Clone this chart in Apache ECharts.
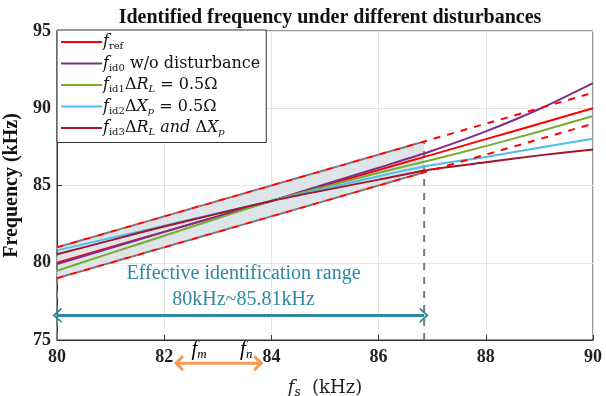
<!DOCTYPE html>
<html>
<head>
<meta charset="utf-8">
<script src="https://cdn.jsdelivr.net/npm/echarts@6/dist/echarts.min.js"></script>
<style>
  html, body { margin: 0; padding: 0; background: #fff; }
  #main { width: 606px; height: 396px; }
</style>
</head>
<body>
<div id="main"></div>
<script>
// sampled points along f_s (kHz)
var fsAxis = [80, 81, 82, 83, 84, 85, 86, 87, 88, 89, 90];
var fRef = [80, 81, 82, 83, 84, 85, 86, 87, 88, 89, 90];
var fId0 = [79.92, 80.95, 82.0, 83.0, 84.0, 85.08, 86.15, 87.25, 88.5, 89.95, 91.63];
var fId1 = [79.48, 80.62, 81.75, 82.88, 84.0, 84.92, 85.82, 86.67, 87.55, 88.5, 89.5];
var fId2 = [80.8, 81.6, 82.4, 83.2, 84.0, 84.8, 85.6, 86.32, 86.85, 87.45, 88.02];
var fId3 = [80.55, 81.45, 82.35, 83.18, 84.0, 84.7, 85.38, 86.05, 86.5, 86.95, 87.33];

// +-1 kHz tolerance lines
var tolX = [80, 90];
var tolHigh = [81, 91];
var tolLow = [79, 89];

// effective range band
var bandX = [80, 86.85];
var bandHigh = [81, 87.85];
var bandLow = [79, 85.85];

// annotations
var rangeArrowX = [80, 86.85];
var rangeArrowY = 76.6;
var fmnX = [82.22, 83.81];
var fmnY = 73.5;

var serif = '"Liberation Serif", "DejaVu Serif", serif';
var lserif = '"DejaVu Serif", serif';
var teal = '#2f87a2';
var orange = '#f59d56';
var gray = '#7a7a7a';

function pairs(xs, ys) {
  var out = [];
  for (var i = 0; i < xs.length; i++) out.push([xs[i], ys[i]]);
  return out;
}

function richSet(font, big, small, drop, color) {
  return {
    i: { fontFamily: font, fontStyle: 'italic', fontSize: big, color: color },
    n: { fontFamily: font, fontSize: big, color: color },
    s: { fontFamily: font, fontSize: small, color: color, padding: [drop, 0, 0, 0] },
    si: { fontFamily: font, fontStyle: 'italic', fontSize: small, color: color, padding: [drop, 0, 0, 0] }
  };
}

var legendRich = richSet(lserif, 16, 10, 9, '#111');
var xNameRich = richSet(lserif, 18, 12, 9, '#222');

var legendText = {
  ref: '{i|f}{s|ref}',
  id0: '{i|f}{s|id0}{n| w/o disturbance}',
  id1: '{i|f}{s|id1}{n|Δ}{i|R}{si|L}{n| = 0.5Ω}',
  id2: '{i|f}{s|id2}{n|Δ}{i|X}{si|p}{n| = 0.5Ω}',
  id3: '{i|f}{s|id3}{n|Δ}{i|R}{si|L}{i| and }{n|Δ}{i|X}{si|p}'
};

var chartDom = document.getElementById('main');
var myChart = echarts.init(chartDom);
var option;

function solid(name, color, data) {
  return {
    name: name,
    type: 'line',
    data: pairs(fsAxis, data),
    smooth: 0.3,
    symbol: 'none',
    lineStyle: { color: color, width: 2 },
    itemStyle: { color: color },
    z: 5
  };
}

function dashed(xs, ys, color, offset, z) {
  return {
    type: 'line',
    data: pairs(xs, ys),
    symbol: 'none',
    silent: true,
    lineStyle: { color: color, width: 2, type: [7, 7], dashOffset: offset },
    z: z
  };
}

option = {
  animation: false,
  title: {
    text: 'Identified frequency under different disturbances',
    left: 325,
    textAlign: 'center',
    top: 3,
    textStyle: { fontFamily: serif, fontWeight: 'bold', fontSize: 20, color: '#111' }
  },
  grid: {
    left: 57, right: 13, top: 31, bottom: 56,
    containLabel: false,
    outerBoundsMode: 'none',
    show: true, borderColor: '#333', borderWidth: 1
  },
  legend: {
    orient: 'vertical',
    left: 57,
    top: 30,
    padding: [4, 6, 5, 4],
    itemGap: 4,
    itemWidth: 41,
    itemHeight: 2,
    icon: 'rect',
    backgroundColor: '#fff',
    borderColor: '#333',
    borderWidth: 1,
    borderRadius: 0,
    data: ['ref', 'id0', 'id1', 'id2', 'id3'],
    formatter: function (name) { return legendText[name]; },
    textStyle: { rich: legendRich, padding: [0, 0, 0, -4] }
  },
  xAxis: {
    type: 'value',
    min: 80,
    max: 90,
    interval: 2,
    name: '{i|f}{si|s}{n|  (kHz)}',
    nameLocation: 'middle',
    nameGap: 38,
    nameTextStyle: { rich: xNameRich },
    axisLine: { lineStyle: { color: '#333' } },
    axisTick: { inside: true, length: 5, lineStyle: { color: '#333' } },
    axisLabel: { fontFamily: serif, fontWeight: 'bold', fontSize: 18, color: '#222', margin: 8 },
    splitLine: { show: true, lineStyle: { color: '#e4e4e4' } }
  },
  yAxis: {
    type: 'value',
    min: 75,
    max: 95,
    interval: 5,
    name: 'Frequency (kHz)',
    nameLocation: 'middle',
    nameGap: 20,
    nameTextStyle: { fontFamily: serif, fontWeight: 'bold', fontSize: 20, color: '#111' },
    axisLine: { lineStyle: { color: '#333' } },
    axisTick: { inside: true, length: 5, lineStyle: { color: '#333' } },
    axisLabel: { fontFamily: serif, fontWeight: 'bold', fontSize: 18, color: '#222', margin: 6 },
    splitLine: { show: true, lineStyle: { color: '#e4e4e4' } }
  },
  series: [
    {
      type: 'custom',
      silent: true,
      z: 1,
      data: [0],
      renderItem: function (params, api) {
        var pts = [
          api.coord([bandX[0], bandLow[0]]),
          api.coord([bandX[1], bandLow[1]]),
          api.coord([bandX[1], bandHigh[1]]),
          api.coord([bandX[0], bandHigh[0]])
        ];
        return { type: 'polygon', shape: { points: pts }, style: { fill: '#d9e2e5', opacity: 0.9 } };
      }
    },
    // band border (gray dashed) incl. vertical edges down to the axis
    dashed(bandX, bandHigh, gray, 7, 3),
    dashed(bandX, bandLow, gray, 7, 3),
    dashed([bandX[1], bandX[1]], [75, bandHigh[1]], gray, 0, 3),
    dashed([bandX[0], bandX[0]], [75, bandHigh[0]], gray, 0, 3),
    solid('ref', '#ff0000', fRef),
    solid('id0', '#7e2f8e', fId0),
    solid('id1', '#77ac30', fId1),
    solid('id2', '#4dbeee', fId2),
    solid('id3', '#a2142f', fId3),
    dashed(tolX, tolHigh, '#ff0000', 0, 6),
    dashed(tolX, tolLow, '#ff0000', 0, 6),
    {
      type: 'line',
      data: [],
      silent: true,
      markLine: {
        silent: true,
        symbol: ['path://M10,0 L20,10 L17,10 L10,3 L3,10 L0,10 Z', 'path://M10,0 L20,10 L17,10 L10,3 L3,10 L0,10 Z'],
        symbolSize: [16, 9],
        label: { show: false },
        lineStyle: { color: teal, width: 3, type: 'solid' },
        data: [[{ coord: [rangeArrowX[0], rangeArrowY] }, { coord: [rangeArrowX[1], rangeArrowY] }]]
      }
    }
  ]
};

option && myChart.setOption(option);

// text annotations and the f_m / f_n arrow below the axis
var p1 = myChart.convertToPixel({ gridIndex: 0 }, [fmnX[0], fmnY]);
var p2 = myChart.convertToPixel({ gridIndex: 0 }, [fmnX[1], fmnY]);
var t1 = myChart.convertToPixel({ gridIndex: 0 }, [83.48, 79.3]);
var t2 = myChart.convertToPixel({ gridIndex: 0 }, [83.48, 77.6]);
var oRich = {
  i: { fontFamily: serif, fontStyle: 'italic', fontSize: 21, color: orange },
  s: { fontFamily: serif, fontStyle: 'italic', fontSize: 13, color: orange, padding: [10, 0, 0, 0] }
};
var head = 7;
myChart.setOption({
  graphic: [
    { type: 'text', x: t1[0], y: t1[1], style: { text: 'Effective identification range', fontFamily: serif, fontSize: 20, fill: teal, align: 'center', verticalAlign: 'middle' } },
    { type: 'text', x: t2[0], y: t2[1], style: { text: '80kHz~85.81kHz', fontFamily: serif, fontSize: 20, fill: teal, align: 'center', verticalAlign: 'middle' } },
    { type: 'line', shape: { x1: p1[0], y1: p1[1], x2: p2[0], y2: p2[1] }, style: { stroke: orange, lineWidth: 3 } },
    { type: 'polyline', shape: { points: [[p1[0] + head, p1[1] - head], [p1[0], p1[1]], [p1[0] + head, p1[1] + head]] }, style: { stroke: orange, lineWidth: 3, fill: null } },
    { type: 'polyline', shape: { points: [[p2[0] - head, p2[1] - head], [p2[0], p2[1]], [p2[0] - head, p2[1] + head]] }, style: { stroke: orange, lineWidth: 3, fill: null } },
    { type: 'text', x: p1[0] + 23, y: p1[1] - 14, style: { text: '{i|f}{s|m}', rich: oRich, align: 'center', verticalAlign: 'middle' } },
    { type: 'text', x: p2[0] - 15, y: p2[1] - 14, style: { text: '{i|f}{s|n}', rich: oRich, align: 'center', verticalAlign: 'middle' } }
  ]
});
</script>
</body>
</html>
